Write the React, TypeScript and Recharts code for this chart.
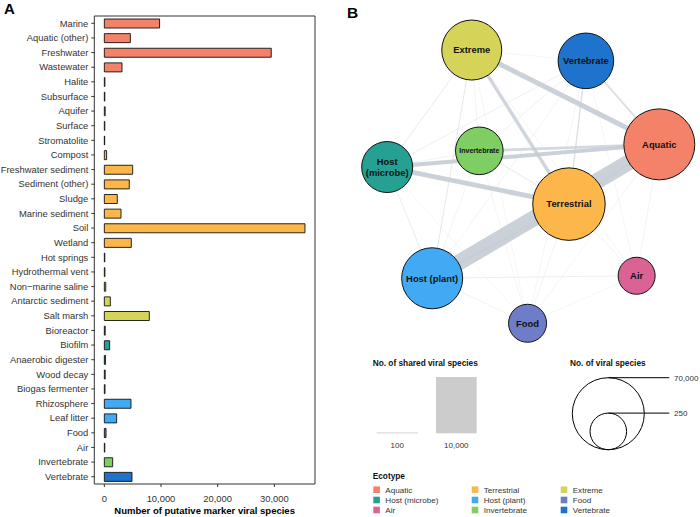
import React from "react";
import {
  BarChart,
  Bar,
  XAxis,
  YAxis,
  Cell,
  ReferenceArea,
  ScatterChart,
  Scatter,
} from "recharts";

// ---- ecotypes (legend order) ----
const ecotypes = [
  "Aquatic",
  "Terrestrial",
  "Extreme",
  "Host (microbe)",
  "Host (plant)",
  "Food",
  "Air",
  "Invertebrate",
  "Vertebrate",
];
const ecotypeColors = [
  "#F48268",
  "#FDB64A",
  "#D6D458",
  "#26A092",
  "#42AAF5",
  "#6E7DC8",
  "#DB6294",
  "#7ECE63",
  "#1E73CD",
];

// ---- panel A: marker viral species per habitat ----
const habitats = [
  "Marine",
  "Aquatic (other)",
  "Freshwater",
  "Wastewater",
  "Halite",
  "Subsurface",
  "Aquifer",
  "Surface",
  "Stromatolite",
  "Compost",
  "Freshwater sediment",
  "Sediment (other)",
  "Sludge",
  "Marine sediment",
  "Soil",
  "Wetland",
  "Hot springs",
  "Hydrothermal vent",
  "Non\u2212marine saline",
  "Antarctic sediment",
  "Salt marsh",
  "Bioreactor",
  "Biofilm",
  "Anaerobic digester",
  "Wood decay",
  "Biogas fermenter",
  "Rhizosphere",
  "Leaf litter",
  "Food",
  "Air",
  "Invertebrate",
  "Vertebrate",
];
const markerSpecies = [
  9750, 4590, 29450, 3120, 100, 90, 150, 80, 60, 400, 5000, 4400, 2290, 2940,
  35400, 4760, 80, 100, 250, 1060, 7940, 150, 940, 200, 150, 120, 4700, 2170,
  300, 80, 1470, 4880,
];
const habitatEcotype = [
  "Aquatic", "Aquatic", "Aquatic", "Aquatic",
  "Terrestrial", "Terrestrial", "Terrestrial", "Terrestrial", "Terrestrial",
  "Terrestrial", "Terrestrial", "Terrestrial", "Terrestrial", "Terrestrial",
  "Terrestrial", "Terrestrial",
  "Extreme", "Extreme", "Extreme", "Extreme", "Extreme",
  "Host (microbe)", "Host (microbe)", "Host (microbe)", "Host (microbe)", "Host (microbe)",
  "Host (plant)", "Host (plant)",
  "Food", "Air", "Invertebrate", "Vertebrate",
];
const xTicks = [0, 10000, 20000, 30000];
const xDomain: [number, number] = [-1770, 37170];

// ---- panel B: network ----
const nodeX = [8.87, 6.36, 3.66, 1.31, 2.56, 5.21, 8.24, 3.87, 6.83];
const nodeY = [5.99, 4.33, 8.61, 5.36, 2.27, 1.02, 2.34, 5.81, 8.31];
const viralSpecies = [66000, 72000, 30700, 11800, 33400, 360, 260, 6990, 20350];

// edges: indices into ecotypes
const edgeFrom = [
  2, 2, 2, 2, 8, 8, 8, 3, 3, 7, 7, 4, 1, 1, 0, 0, 5,
  2, 2, 4, 3, 8, 8, 1, 0, 0, 1, 3, 7, 1, 0, 0, 0, 1, 2, 4,
];
const edgeTo = [
  8, 7, 5, 6, 4, 5, 6, 7, 5, 4, 5, 5, 5, 6, 6, 5, 6,
  3, 4, 6, 4, 3, 7, 7, 1, 8, 8, 1, 0, 4, 2, 3, 7, 2, 0, 0,
];
const sharedSpecies = [
  25, 40, 20, 15, 30, 20, 20, 40, 20, 30, 15, 35, 40, 35, 40, 30, 15,
  90, 110, 70, 80, 60, 50, 100, 300, 280, 200, 800, 450, 300, 850, 650, 0, 550, 0, 2800,
];

// ---- scales ----
const nodeRadius = (v: number) =>
  18.3 + 17.7 * Math.sqrt(Math.max(0, v - 250) / (70000 - 250));
const edgeWidth = (v: number) => 0.3 + v * 0.0056;

const barData = habitats.map((h, i) => ({
  habitat: h,
  count: markerSpecies[i],
  color: ecotypeColors[ecotypes.indexOf(habitatEcotype[i])],
}));

const nodes = ecotypes.map((name, i) => ({
  name,
  x: nodeX[i],
  y: nodeY[i],
  species: viralSpecies[i],
  color: ecotypeColors[i],
}));

const edges = edgeFrom
  .map((s, i) => ({ s, t: edgeTo[i], v: sharedSpecies[i] }))
  .filter((e) => e.v > 0);

const fmt = (v: number) => v.toLocaleString("en-US");

const HabitatTick = (props: any) => {
  const { x, y, payload } = props;
  return (
    <text x={x} y={y} dy="0.35em" textAnchor="end" fontSize={9.4} fill="#333">
      {payload.value}
    </text>
  );
};

const NodeShape = (props: any) => {
  const { cx, cy, payload } = props;
  const r = nodeRadius(payload.species);
  const lines =
    payload.name === "Host (microbe)" ? ["Host", "(microbe)"] : [payload.name];
  const fs = payload.name === "Invertebrate" ? 7 : 9.4;
  return (
    <g>
      <circle cx={cx} cy={cy} r={r} fill={payload.color} stroke="#111" strokeWidth={1} />
      {lines.map((l, i) => (
        <text
          key={i}
          x={cx}
          y={cy + (i - (lines.length - 1) / 2) * 11}
          dy="0.35em"
          textAnchor="middle"
          fontSize={fs}
          fontWeight="bold"
          fill="#111"
        >
          {l}
        </text>
      ))}
    </g>
  );
};

export default function App() {
  return (
    <div
      style={{
        position: "absolute",
        left: 0,
        top: 0,
        width: 700,
        height: 517,
        background: "#fff",
        overflow: "hidden",
        fontFamily: "'Liberation Sans', Arial, Helvetica, sans-serif",
      }}
    >
      <div style={{ position: "absolute", left: 0, top: 0 }}>
        <BarChart
          width={340}
          height={517}
          layout="vertical"
          data={barData}
          margin={{ top: 16, right: 25, bottom: 0, left: 0 }}
          barSize={9}
        >
          <XAxis
            type="number"
            domain={xDomain}
            ticks={xTicks}
            allowDataOverflow
            tickFormatter={fmt}
            height={33}
            tickSize={3}
            tickMargin={8}
            axisLine={false}
            tick={{ fontSize: 9.4, fill: "#333" }}
            tickLine={{ stroke: "#333" }}
            label={{
              value: "Number of putative marker viral species",
              position: "insideBottom",
              offset: 3,
              fontSize: 9.5,
              fontWeight: "bold",
              fill: "#000",
            }}
          />
          <YAxis
            type="category"
            dataKey="habitat"
            width={94.3}
            tickSize={3}
            tickMargin={3}
            interval={0}
            axisLine={false}
            tick={<HabitatTick />}
            tickLine={{ stroke: "#333" }}
          />
          <ReferenceArea
            x1={xDomain[0]}
            x2={xDomain[1]}
            fill="none"
            stroke="#333"
            strokeWidth={1}
            ifOverflow="visible"
          />
          <Bar dataKey="count" stroke="#111" strokeWidth={0.9} isAnimationActive={false}>
            {barData.map((d, i) => (
              <Cell key={i} fill={d.color} />
            ))}
          </Bar>
        </BarChart>
      </div>

      <div style={{ position: "absolute", left: 340, top: 0 }}>
        <ScatterChart width={360} height={360} margin={{ top: 0, right: 0, bottom: 0, left: 0 }}>
          <XAxis type="number" dataKey="x" domain={[0, 10]} hide />
          <YAxis type="number" dataKey="y" domain={[0, 10]} hide />
          {edges.map((e, i) => {
            const w = edgeWidth(e.v);
            return (
              <Scatter
                key={"e" + i}
                data={[nodes[e.s], nodes[e.t]]}
                line={{
                  stroke: "#C5CCD4",
                  strokeWidth: w,
                  strokeOpacity: 0.4 + 0.5 * Math.min(1, w / 4),
                }}
                shape={() => <g />}
                legendType="none"
                isAnimationActive={false}
              />
            );
          })}
          <Scatter data={nodes} shape={(p: any) => <NodeShape {...p} />} isAnimationActive={false} />
        </ScatterChart>
      </div>

      <svg
        width={700}
        height={517}
        style={{ position: "absolute", left: 0, top: 0, pointerEvents: "none" }}
      >
        <text x={4} y={14} fontSize={15} fontWeight="bold" fill="#000">A</text>
        <text x={347} y={18} fontSize={15.5} fontWeight="bold" fill="#000">B</text>

        {/* shared species legend */}
        <text x={372.7} y={363.3} dy="0.35em" fontSize={8.3} fontWeight="bold" fill="#111">
          No. of shared viral species
        </text>
        <line
          x1={376.7}
          x2={418}
          y1={433.3 - edgeWidth(100) / 2}
          y2={433.3 - edgeWidth(100) / 2}
          stroke="#CCCCCC"
          strokeWidth={edgeWidth(100)}
        />
        <rect
          x={436}
          y={433.3 - edgeWidth(10000)}
          width={40.7}
          height={edgeWidth(10000)}
          fill="#CCCCCC"
        />
        <text x={397.3} y={445} dy="0.35em" textAnchor="middle" fontSize={8} fill="#333">
          {fmt(100)}
        </text>
        <text x={456.3} y={445} dy="0.35em" textAnchor="middle" fontSize={8} fill="#333">
          {fmt(10000)}
        </text>

        {/* size legend */}
        <text x={570} y={363.3} dy="0.35em" fontSize={8.3} fontWeight="bold" fill="#111">
          No. of viral species
        </text>
        {[70000, 250].map((v) => {
          const r = nodeRadius(v);
          const top = 449.7 - 2 * r;
          return (
            <g key={v}>
              <circle cx={608.3} cy={449.7 - r} r={r} fill="none" stroke="#000" strokeWidth={1} />
              <line x1={608.3} x2={669.3} y1={top} y2={top} stroke="#000" strokeWidth={1} />
              <text x={674} y={top} dy="0.35em" fontSize={8} fill="#333">
                {fmt(v)}
              </text>
            </g>
          );
        })}

        {/* ecotype legend */}
        <text x={372.7} y={475.7} dy="0.35em" fontSize={8.3} fontWeight="bold" fill="#111">
          Ecotype
        </text>
        {ecotypes.map((name, i) => {
          const colX = [373.3, 471.7, 560.7][i % 3];
          const rowY = [489.7, 500, 510][Math.floor(i / 3)];
          return (
            <g key={name}>
              <rect x={colX} y={rowY - 3.3} width={6.6} height={6.6} fill={ecotypeColors[i]} />
              <text x={colX + 12} y={rowY} dy="0.35em" fontSize={8.1} fill="#333">
                {name}
              </text>
            </g>
          );
        })}
      </svg>
    </div>
  );
}
